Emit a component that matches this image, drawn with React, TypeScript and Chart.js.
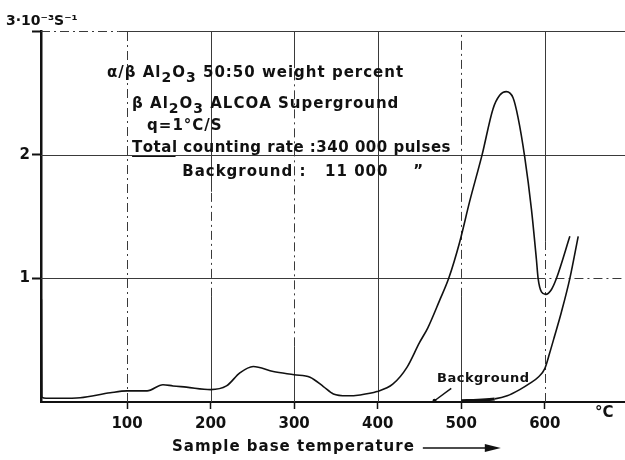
import React, { useEffect, useRef } from "react";
import { Chart, registerables } from "chart.js";

Chart.register(...registerables);

// Main curve: sample count rate (10^-3 s^-1) vs sample base temperature (°C)
const mainTemp = [-2.5, -2, 3, 20, 44, 80, 100, 124, 143, 155, 171, 200, 219, 235, 251, 275, 300, 319, 335, 347, 363, 379, 399, 418, 435, 450, 460, 474, 485, 498, 510, 525, 538, 546, 554, 562, 568, 576, 584, 590, 592, 596, 601, 608, 614, 630];
const mainRate = [0.83, 0.04, 0.03, 0.03, 0.035, 0.075, 0.09, 0.09, 0.14, 0.13, 0.12, 0.10, 0.13, 0.235, 0.287, 0.246, 0.22, 0.20, 0.125, 0.065, 0.05, 0.057, 0.084, 0.144, 0.28, 0.48, 0.6, 0.82, 1.0, 1.29, 1.62, 2.0, 2.37, 2.48, 2.51, 2.46, 2.3, 1.98, 1.56, 1.15, 1.0, 0.89, 0.87, 0.91, 1.0, 1.34];

// Background curve
const bgTemp = [500, 520, 540, 555, 570, 582, 592, 600, 606, 612, 620, 630, 640];
const bgRate = [0.01, 0.015, 0.025, 0.05, 0.1, 0.15, 0.2, 0.27, 0.4, 0.54, 0.73, 1.0, 1.34];

const xTickValues = [100, 200, 300, 400, 500, 600];
const yTickValues = [1, 2, 3];
const yTickLabels = ["1", "2", ""];

const yUnitLabel = "3·10⁻³S⁻¹";
const xUnitLabel = "°C";
const xTitle = "Sample base temperature";
const annotationLines = [
  "α/β Al₂O₃ 50:50 weight percent",
  "β Al₂O₃ ALCOA Superground",
  "q=1°C/S",
  "Total counting rate :340 000 pulses",
  "Background :   11 000    \u201D",
];
const backgroundLabel = "Background";

const FONT = "'DejaVu Sans', sans-serif";
const INK = "#111";
const GRID = "#3a3a3a";
const DD = [9, 4, 2, 4];

// grid styling: [from, to, dashed]
const vGridStyle: Record<number, [number, number, boolean][]> = {
  100: [[0, 3, true]],
  200: [[0, 0.85, false], [0.85, 1.7, true], [1.7, 3, false]],
  300: [[0, 0.45, false], [0.45, 2.7, true], [2.7, 3, false]],
  400: [[0, 3, false]],
  500: [[0, 0.85, false], [0.85, 3, true]],
  600: [[0, 1.3, true], [1.3, 3, false]],
};
const hGridStyle: Record<number, [number, number, boolean][]> = {
  1: [[-3, 590, false], [590, 700, true]],
  2: [[-3, 700, false]],
  3: [[-3, 90, true], [90, 700, false]],
};
const lineSpacing = [1, 1, 1, 0.5, 1];

const SUBS: Record<string, string> = { "₂": "2", "₃": "3" };

function drawRich(ctx: CanvasRenderingContext2D, text: string, x0: number, y0: number, size: number) {
  let x = x0;
  for (const ch of text) {
    if (SUBS[ch]) {
      ctx.font = `bold ${size - 1}px ${FONT}`;
      ctx.fillText(SUBS[ch], x, y0 + 5);
      x += ctx.measureText(SUBS[ch]).width;
    } else {
      ctx.font = `bold ${size}px ${FONT}`;
      ctx.fillText(ch, x, y0);
      x += ctx.measureText(ch).width;
    }
  }
  return x - x0;
}

const overlay = {
  id: "overlay",
  beforeDatasetsDraw(chart: any) {
    const { ctx, scales } = chart;
    const x = scales.x, y = scales.y;
    ctx.save();
    ctx.strokeStyle = GRID;
    ctx.lineWidth = 1;
    for (const v of xTickValues) {
      const px = Math.round(x.getPixelForValue(v)) + 0.5;
      for (const [a, b, dashed] of vGridStyle[v] || []) {
        ctx.setLineDash(dashed ? DD : []);
        ctx.beginPath();
        ctx.moveTo(px, y.getPixelForValue(a));
        ctx.lineTo(px, y.getPixelForValue(b));
        ctx.stroke();
      }
    }
    for (const v of yTickValues) {
      const py = Math.round(y.getPixelForValue(v)) + 0.5;
      for (const [a, b, dashed] of hGridStyle[v] || []) {
        ctx.setLineDash(dashed ? DD : []);
        ctx.beginPath();
        ctx.moveTo(Math.max(x.getPixelForValue(a), chart.chartArea.left), py);
        ctx.lineTo(Math.min(x.getPixelForValue(b), chart.chartArea.right), py);
        ctx.stroke();
      }
    }
    ctx.restore();
  },
  afterDraw(chart: any) {
    const { ctx, scales, chartArea } = chart;
    const x = scales.x, y = scales.y;
    ctx.save();
    ctx.fillStyle = INK;
    ctx.strokeStyle = INK;
    ctx.textBaseline = "middle";
    ctx.textAlign = "left";

    // y unit label at top-left
    ctx.font = `bold 14px ${FONT}`;
    ctx.fillText(yUnitLabel, 6, y.getPixelForValue(3) - 10);

    // annotation block
    const pos: [number, number][] = [[76, 2.66], [106, 2.41], [124, 2.23], [106, 2.05], [166, 1.86]];
    annotationLines.forEach((t, i) => {
      (ctx as any).letterSpacing = `${lineSpacing[i]}px`;
      drawRich(ctx, t, x.getPixelForValue(pos[i][0]), y.getPixelForValue(pos[i][1]), 15);
    });
    // underline "Total"
    {
      (ctx as any).letterSpacing = "0.5px";
      ctx.font = `bold 15px ${FONT}`;
      const lx = x.getPixelForValue(106);
      const ly = y.getPixelForValue(2.05) + 8;
      const w = ctx.measureText("Total").width;
      ctx.lineWidth = 1.2;
      ctx.beginPath();
      ctx.moveTo(lx, ly);
      ctx.lineTo(lx + w, ly);
      ctx.stroke();
    }

    // Background label with arrow
    (ctx as any).letterSpacing = "0.5px";
    ctx.font = `bold 13px ${FONT}`;
    ctx.fillText(backgroundLabel, x.getPixelForValue(471), y.getPixelForValue(0.19));
    {
      const x1 = x.getPixelForValue(488), y1 = y.getPixelForValue(0.11);
      const x0 = x.getPixelForValue(468), y0 = y.getPixelForValue(0.01);
      ctx.lineWidth = 1.5;
      ctx.beginPath();
      ctx.moveTo(x1, y1);
      ctx.lineTo(x0, y0);
      ctx.stroke();
      ctx.beginPath();
      ctx.arc(x0, y0, 2, 0, Math.PI * 2);
      ctx.fill();
    }

    // °C unit
    (ctx as any).letterSpacing = "0px";
    ctx.font = `bold 15px ${FONT}`;
    ctx.fillText(xUnitLabel, x.getPixelForValue(660), chartArea.bottom + 11);

    // x title with arrow
    (ctx as any).letterSpacing = "1px";
    ctx.font = `bold 15px ${FONT}`;
    const tx = 172, ty = chartArea.bottom + 45;
    ctx.fillText(xTitle, tx, ty);
    const tw = ctx.measureText(xTitle).width;
    const ax0 = tx + tw + 8, ax1 = ax0 + 78;
    ctx.lineWidth = 1.5;
    ctx.beginPath();
    ctx.moveTo(ax0, ty + 1);
    ctx.lineTo(ax1 - 12, ty + 1);
    ctx.stroke();
    ctx.beginPath();
    ctx.moveTo(ax1, ty + 1);
    ctx.lineTo(ax1 - 16, ty - 3);
    ctx.lineTo(ax1 - 16, ty + 5);
    ctx.closePath();
    ctx.fill();
    ctx.restore();
  },
};

export default function App() {
  const ref = useRef<HTMLCanvasElement>(null);
  useEffect(() => {
    if (!ref.current) return;
    const chart = new Chart(ref.current, {
      type: "line",
      data: {
        datasets: [
          {
            label: "Sample",
            data: mainTemp.map((t, i) => ({ x: t, y: mainRate[i] })),
            borderColor: INK,
            borderWidth: 1.6,
            pointRadius: 0,
            fill: false,
            cubicInterpolationMode: "monotone",
          },
          {
            label: "Background",
            data: bgTemp.map((t, i) => ({ x: t, y: bgRate[i] })),
            borderColor: INK,
            borderWidth: 1.6,
            pointRadius: 0,
            fill: false,
            cubicInterpolationMode: "monotone",
            segment: {
              borderWidth: (c: any) => (c.p0.parsed.x < 540 ? 3 : 1.6),
            },
          },
        ],
      },
      options: {
        responsive: false,
        animation: false,
        devicePixelRatio: 1,
        layout: { padding: { top: 31, left: 0, right: 0, bottom: 0 } },
        plugins: { legend: { display: false }, tooltip: { enabled: false }, title: { display: false } },
        scales: {
          x: {
            type: "linear",
            min: -3,
            max: 696,
            afterBuildTicks: (s: any) => {
              s.ticks = xTickValues.map((v) => ({ value: v }));
            },
            afterFit: (s: any) => {
              s.height = 58;
            },
            ticks: {
              color: INK,
              font: { family: FONT, size: 15, weight: "bold" },
              padding: 6,
              maxRotation: 0,
              autoSkip: false,
              callback: (v: any) => String(v),
            },
            grid: { drawOnChartArea: false, drawTicks: true, tickLength: 7, tickColor: INK, tickWidth: 1.5 },
            border: { display: true, color: INK, width: 2 },
          },
          y: {
            type: "linear",
            min: 0,
            max: 3,
            afterBuildTicks: (s: any) => {
              s.ticks = yTickValues.map((v) => ({ value: v }));
            },
            afterFit: (s: any) => {
              s.width = 41;
            },
            ticks: {
              color: INK,
              font: { family: FONT, size: 15, weight: "bold" },
              padding: 2,
              callback: (v: any) => yTickLabels[yTickValues.indexOf(Number(v))] ?? "",
            },
            grid: { drawOnChartArea: false, drawTicks: true, tickLength: 9, tickColor: INK, tickWidth: 2 },
            border: { display: true, color: INK, width: 2.5 },
          },
        },
      },
      plugins: [overlay],
    });
    return () => chart.destroy();
  }, []);
  return (
    <div style={{ position: "fixed", left: 0, top: 0, width: 625, height: 460, background: "#fff" }}>
      <canvas ref={ref} width={625} height={460} />
    </div>
  );
}
